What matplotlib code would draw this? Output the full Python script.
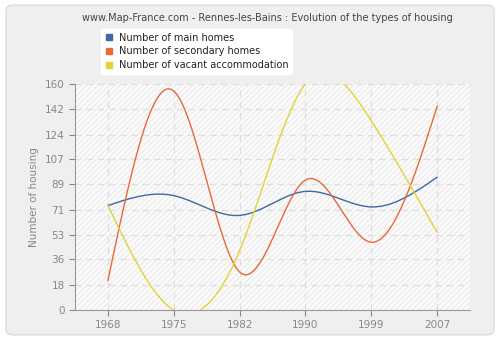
import matplotlib
matplotlib.use("Agg")
import matplotlib.pyplot as plt
import numpy as np
from matplotlib.patches import FancyBboxPatch, Rectangle
from matplotlib.lines import Line2D

years = ["1968", "1975", "1982", "1990", "1999", "2007"]
main_homes = [74, 81, 67, 84, 73, 94]
secondary_homes = [21, 155, 27, 92, 48, 144]
vacant = [74, 0, 42, 160, 134, 55]
yticks = [0, 18, 36, 53, 71, 89, 107, 124, 142, 160]

colors = {"main": "#3d6aa0", "secondary": "#e8693a", "vacant": "#e3d335"}


def natural_spline(y, n=300):
    # natural cubic spline on evenly spaced x = 0..len(y)-1
    y = np.asarray(y, dtype=float)
    k = len(y)
    A = np.zeros((k, k))
    b = np.zeros(k)
    A[0, 0] = A[-1, -1] = 1
    for i in range(1, k - 1):
        A[i, i - 1], A[i, i], A[i, i + 1] = 1, 4, 1
        b[i] = 6 * (y[i + 1] - 2 * y[i] + y[i - 1])
    m = np.linalg.solve(A, b)
    xs = np.linspace(0, k - 1, n)
    out = np.empty_like(xs)
    for j, x in enumerate(xs):
        i = min(int(x), k - 2)
        t = x - i
        out[j] = ((1 - t) * y[i] + t * y[i + 1]
                  + ((1 - t) ** 3 - (1 - t)) * m[i] / 6
                  + (t ** 3 - t) * m[i + 1] / 6)
    return xs, out


fig = plt.figure(figsize=(5, 3.4), dpi=100)
fig.patch.set_facecolor("white")
fig.patches.append(FancyBboxPatch((0.012, 0.015), 0.976, 0.97,
                                  boxstyle="round,pad=0,rounding_size=0.015",
                                  transform=fig.transFigure, facecolor="#efefef",
                                  edgecolor="#dddddd", linewidth=1, zorder=-10))

ax = fig.add_axes([0.15, 0.088, 0.79, 0.665])
ax.set_facecolor("#fafafa")
plt.rcParams["hatch.color"] = "#e6e6e6"
plt.rcParams["hatch.linewidth"] = 0.6
ax.add_patch(Rectangle((0, 0), 1, 1, transform=ax.transAxes, facecolor="none",
                       edgecolor="#e6e6e6", hatch="//////", linewidth=0, zorder=0))

x = np.arange(len(years))
for vals, key in [(main_homes, "main"), (secondary_homes, "secondary"), (vacant, "vacant")]:
    xs, ys = natural_spline(vals)
    ax.plot(xs, ys, color=colors[key], linewidth=1, zorder=3, clip_on=True)

ax.set_xlim(-0.5, 5.5)
ax.set_ylim(0, 160)
ax.set_xticks(x)
ax.set_xticklabels(years)
ax.set_yticks(yticks)
ax.grid(True, color="#dedede", linestyle=(0, (5, 4)), linewidth=0.9)
ax.set_axisbelow(True)
for s in ["top", "right"]:
    ax.spines[s].set_visible(False)
for s in ["left", "bottom"]:
    ax.spines[s].set_color("#999999")
ax.tick_params(colors="#888888", labelsize=7.5, length=4, width=0.8)
ax.set_ylabel("Number of housing", color="#888888", fontsize=7.5)

fig.text(0.535, 0.948, "www.Map-France.com - Rennes-les-Bains : Evolution of the types of housing",
         ha="center", va="center", fontsize=7.0, color="#444444")

handles = [Line2D([], [], marker="s", linestyle="none", markersize=5,
                  color=colors[k]) for k in ["main", "secondary", "vacant"]]
leg = fig.legend(handles, ["Number of main homes", "Number of secondary homes",
                           "Number of vacant accommodation"],
                 loc="upper left", bbox_to_anchor=(0.193, 0.93), fontsize=7.0,
                 frameon=True, fancybox=True, handlelength=0.8, handletextpad=0.6,
                 labelspacing=0.4, borderpad=0.4, facecolor="white",
                 edgecolor="white", framealpha=1)
for t in leg.get_texts():
    t.set_color("#222222")

fig.savefig("out.png", dpi=100, facecolor=fig.get_facecolor())
